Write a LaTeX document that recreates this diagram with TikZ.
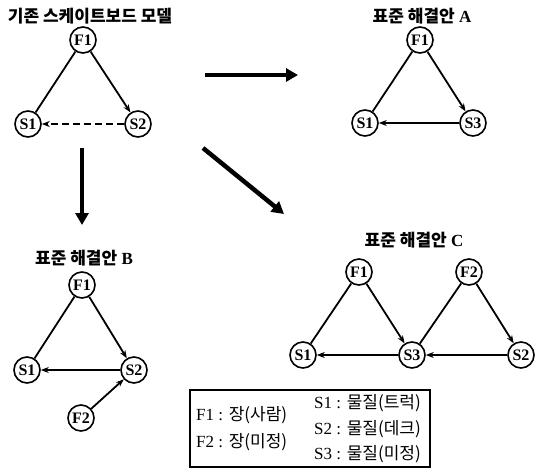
\documentclass[tikz,border=0pt]{standalone}
\usepackage{fontspec}
\setmainfont{Liberation Serif}
\newfontfamily\kr{Noto Sans CJK KR}
\usetikzlibrary{arrows.meta}
\begin{document}
\begin{tikzpicture}[x=1pt,y=-1pt,
  nd/.style={circle,draw,line width=1.6pt,minimum size=26pt,inner sep=0pt,font=\fontsize{16}{16}\selectfont\bfseries},
  ln/.style={line width=1.8pt},
  ar/.style={line width=1.8pt,-{Stealth[length=8pt,width=6pt]}},
  dsh/.style={line width=1.8pt,dash pattern=on 7pt off 4pt,-{Stealth[length=8pt,width=6pt]}},
  big/.style={line width=4.5pt,-{Triangle[length=12pt,width=13pt]}},
  ttl/.style={font=\fontsize{17}{19}\selectfont\bfseries,inner sep=0pt},
  lg/.style={font=\fontsize{17}{19}\selectfont,inner sep=0pt,anchor=west}]
\useasboundingbox (0,0) rectangle (538,475);
% Existing model
\node[ttl] (t0) at (90,16) {\kr\bfseries 기존 스케이트보드 모델};
\node[nd] (a1) at (83,40) {F1};
\node[nd] (a2) at (28,124) {S1};
\node[nd] (a3) at (138,124) {S2};
\draw[ln] (a1) -- (a2);
\draw[ar] (a1) -- (a3);
\draw[dsh] (a3) -- (a2);
% Solution A
\node[ttl] (tA) at (422,16) {{\kr\bfseries 표준 해결안} A};
\node[nd] (b1) at (420,40) {F1};
\node[nd] (b2) at (365,123) {S1};
\node[nd] (b3) at (473,123) {S3};
\draw[ln] (b1) -- (b2);
\draw[ar] (b1) -- (b3);
\draw[ar] (b3) -- (b2);
% Solution B
\node[ttl] (tB) at (84,258) {{\kr\bfseries 표준 해결안} B};
\node[nd] (c1) at (82,285) {F1};
\node[nd] (c2) at (27,370) {S1};
\node[nd] (c3) at (134,370) {S2};
\node[nd] (c4) at (81,418) {F2};
\draw[ln] (c1) -- (c2);
\draw[ar] (c1) -- (c3);
\draw[ar] (c3) -- (c2);
\draw[ar] (c4) -- (c3);
% Solution C
\node[ttl] (tC) at (414,240) {{\kr\bfseries 표준 해결안} C};
\node[nd] (d1) at (359,272) {F1};
\node[nd] (d2) at (469,272) {F2};
\node[nd] (d3) at (303,355) {S1};
\node[nd] (d4) at (412,355) {S3};
\node[nd] (d5) at (521,355) {S2};
\draw[ln] (d1) -- (d3);
\draw[ar] (d1) -- (d4);
\draw[ln] (d2) -- (d4);
\draw[ar] (d2) -- (d5);
\draw[ar] (d4) -- (d3);
\draw[ar] (d5) -- (d4);
% big arrows
\coordinate (h0) at (205,75); \coordinate (h1) at (298,75);
\coordinate (g0) at (203,148); \coordinate (g1) at (284,214);
\coordinate (v0) at (82,148); \coordinate (v1) at (82,225);
\draw[big] (h0) -- (h1);
\draw[big] (g0) -- (g1);
\draw[big] (v0) -- (v1);
% legend
\node[draw,line width=1.3pt,minimum width=240pt,minimum height=77pt,inner sep=0pt] (box) at (310,428.5) {};
\node[lg] (l1) at (196,415) {F1 : {\kr 장(사람)}};
\node[lg] (l2) at (196,442) {F2 : {\kr 장(미정)}};
\node[lg] (l3) at (314,403) {S1 : {\kr 물질(트럭)}};
\node[lg] (l4) at (314,429) {S2 : {\kr 물질(데크)}};
\node[lg] (l5) at (314,454) {S3 : {\kr 물질(미정)}};
\end{tikzpicture}
\end{document}
